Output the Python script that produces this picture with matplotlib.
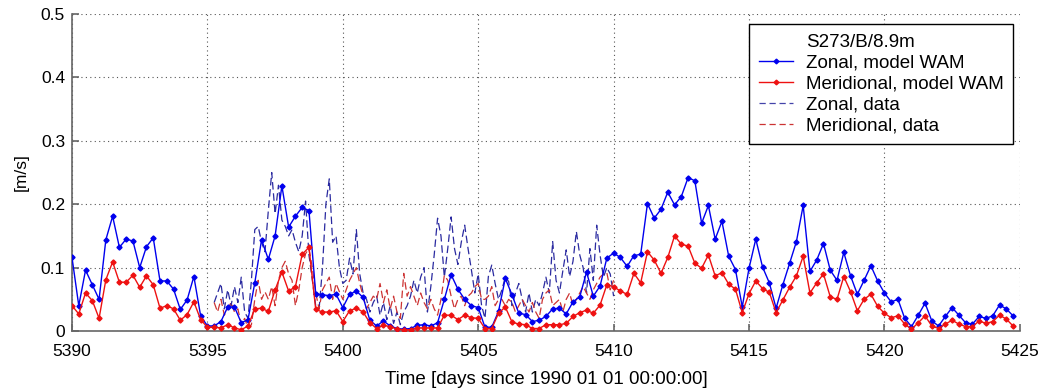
import numpy as np
import matplotlib
matplotlib.use("Agg")
import matplotlib.pyplot as plt
from matplotlib.lines import Line2D

plt.rcParams['font.family'] = ['Liberation Sans', 'DejaVu Sans']

# ---------------- data ----------------
model_start = 5390.0
model_step = 0.25  # 6-hourly model output

zonal_model = [
    0.116, 0.040, 0.096, 0.073,
    0.050, 0.144, 0.181, 0.132,
    0.145, 0.142, 0.100, 0.133,
    0.147, 0.079, 0.079, 0.066,
    0.034, 0.049, 0.086, 0.024,
    0.008, 0.008, 0.015, 0.038,
    0.038, 0.013, 0.018, 0.076,
    0.144, 0.113, 0.150, 0.229,
    0.164, 0.181, 0.195, 0.190,
    0.059, 0.057, 0.056, 0.058,
    0.037, 0.058, 0.063, 0.053,
    0.017, 0.008, 0.016, 0.008,
    0.004, 0.003, 0.004, 0.009,
    0.010, 0.008, 0.013, 0.050,
    0.089, 0.066, 0.050, 0.040,
    0.037, 0.006, 0.006, 0.031,
    0.083, 0.057, 0.028, 0.026,
    0.015, 0.017, 0.023, 0.035,
    0.036, 0.027, 0.046, 0.054,
    0.093, 0.055, 0.071, 0.115,
    0.123, 0.116, 0.102, 0.119,
    0.121, 0.201, 0.178, 0.192,
    0.219, 0.199, 0.212, 0.242,
    0.237, 0.170, 0.198, 0.145,
    0.173, 0.118, 0.097, 0.038,
    0.099, 0.145, 0.101, 0.076,
    0.036, 0.073, 0.107, 0.141,
    0.198, 0.094, 0.112, 0.138,
    0.096, 0.080, 0.124, 0.087,
    0.058, 0.080, 0.103, 0.079,
    0.060, 0.046, 0.050, 0.020,
    0.007, 0.025, 0.044, 0.016,
    0.008, 0.023, 0.037, 0.025,
    0.013, 0.011, 0.023, 0.020,
    0.024, 0.041, 0.035, 0.024,
]

meridional_model = [
    0.040, 0.027, 0.060, 0.048,
    0.020, 0.081, 0.109, 0.077,
    0.077, 0.088, 0.069, 0.087,
    0.073, 0.036, 0.040, 0.035,
    0.017, 0.026, 0.046, 0.018,
    0.006, 0.006, 0.005, 0.010,
    0.005, 0.002, 0.008, 0.035,
    0.036, 0.031, 0.065, 0.093,
    0.063, 0.070, 0.121, 0.132,
    0.034, 0.030, 0.030, 0.032,
    0.015, 0.032, 0.036, 0.030,
    0.013, 0.004, 0.009, 0.007,
    0.003, 0.002, 0.002, 0.005,
    0.005, 0.005, 0.005, 0.025,
    0.025, 0.018, 0.025, 0.021,
    0.020, 0.004, 0.004, 0.028,
    0.038, 0.014, 0.011, 0.010,
    0.004, 0.004, 0.010, 0.010,
    0.010, 0.012, 0.023, 0.029,
    0.033, 0.028, 0.041, 0.073,
    0.070, 0.063, 0.058, 0.091,
    0.076, 0.125, 0.112, 0.091,
    0.116, 0.150, 0.137, 0.134,
    0.107, 0.099, 0.120, 0.087,
    0.092, 0.074, 0.066, 0.029,
    0.059, 0.079, 0.067, 0.061,
    0.029, 0.049, 0.069, 0.087,
    0.118, 0.060, 0.076, 0.090,
    0.054, 0.050, 0.086, 0.062,
    0.032, 0.050, 0.058, 0.039,
    0.028, 0.021, 0.024, 0.011,
    0.003, 0.013, 0.024, 0.008,
    0.004, 0.011, 0.017, 0.011,
    0.007, 0.007, 0.016, 0.012,
    0.015, 0.025, 0.019, 0.008,
]

data_start = 5395.25
data_step = 0.125  # 3-hourly observations

zonal_data = [
    0.045, 0.060, 0.075, 0.035, 0.065, 0.040, 0.070, 0.045,
    0.085, 0.030, 0.020, 0.080, 0.160, 0.165, 0.140, 0.125,
    0.190, 0.250, 0.185, 0.230, 0.175, 0.165, 0.150, 0.160,
    0.140, 0.125, 0.150, 0.205, 0.120, 0.080, 0.040, 0.035,
    0.100, 0.200, 0.240, 0.140, 0.150, 0.100, 0.075, 0.080,
    0.115, 0.090, 0.160, 0.090, 0.060, 0.050, 0.030, 0.045,
    0.055, 0.025, 0.045, 0.018, 0.040, 0.012, 0.030, 0.010,
    0.030, 0.040, 0.055, 0.080, 0.060, 0.085, 0.100, 0.030,
    0.070, 0.120, 0.178, 0.150, 0.085, 0.130, 0.180, 0.130,
    0.105, 0.140, 0.167, 0.130, 0.096, 0.060, 0.090, 0.040,
    0.020, 0.086, 0.104, 0.075, 0.050, 0.065, 0.085, 0.078,
    0.040, 0.060, 0.075, 0.050, 0.030, 0.060, 0.030, 0.050,
    0.040, 0.060, 0.085, 0.060, 0.141, 0.080, 0.060, 0.095,
    0.128, 0.086, 0.110, 0.157, 0.120, 0.100, 0.060, 0.130,
    0.080, 0.167, 0.120, 0.085, 0.100, 0.090, 0.055,
]

meridional_data = [
    0.045, 0.030, 0.050, 0.025, 0.035, 0.045, 0.030, 0.035,
    0.010, 0.020, 0.005, 0.010, 0.050, 0.080, 0.050, 0.062,
    0.050, 0.070, 0.040, 0.080, 0.100, 0.110, 0.090, 0.080,
    0.040, 0.065, 0.100, 0.122, 0.130, 0.100, 0.060, 0.035,
    0.065, 0.075, 0.085, 0.050, 0.075, 0.062, 0.050, 0.065,
    0.080, 0.090, 0.100, 0.075, 0.055, 0.035, 0.045, 0.055,
    0.050, 0.075, 0.045, 0.065, 0.035, 0.055, 0.030, 0.020,
    0.091, 0.055, 0.070, 0.055, 0.040, 0.060, 0.045, 0.035,
    0.050, 0.035, 0.025, 0.050, 0.088, 0.080, 0.055, 0.035,
    0.050, 0.055, 0.040, 0.055, 0.060, 0.070, 0.075, 0.050,
    0.050, 0.055, 0.070, 0.040, 0.050, 0.050, 0.040, 0.050,
    0.045, 0.030, 0.040, 0.050, 0.040, 0.030, 0.045, 0.030,
    0.020, 0.050, 0.060, 0.065, 0.040, 0.045, 0.050, 0.030,
    0.050, 0.060, 0.040, 0.050, 0.060, 0.070, 0.060, 0.050,
    0.065, 0.075, 0.085, 0.090, 0.092, 0.065, 0.080,
]

x_ticks = [5390, 5395, 5400, 5405, 5410, 5415, 5420, 5425]
y_ticks = [0, 0.1, 0.2, 0.3, 0.4, 0.5]
y_ticklabels = ['0', '0.1', '0.2', '0.3', '0.4', '0.5']

legend_title = 'S273/B/8.9m'
labels = ['Zonal, model WAM', 'Meridional, model WAM', 'Zonal, data', 'Meridional, data']

# ---------------- plot ----------------
t_model = model_start + model_step * np.arange(len(zonal_model))
t_data = data_start + data_step * np.arange(len(zonal_data))

fig = plt.figure(figsize=(10.45, 3.89), dpi=100)
ax = fig.add_axes([0.0689, 0.149, 0.907, 0.815])

blue = '#0000ee'
red = '#ee1111'

ax.plot(t_data, zonal_data, color='#2a2aa0', lw=0.9, ls=(0, (6, 3)), zorder=2)
ax.plot(t_data, meridional_data, color='#cc3333', lw=0.9, ls=(0, (6, 3)), zorder=2)
ax.plot(t_model, zonal_model, color=blue, lw=1.0, marker='D', ms=2.6, zorder=3)
ax.plot(t_model, meridional_model, color=red, lw=1.0, marker='D', ms=2.6, zorder=3)

ax.set_xlim(5390, 5425)
ax.set_ylim(0, 0.5)
ax.set_xticks(x_ticks)
ax.set_xticklabels([str(v) for v in x_ticks])
ax.set_yticks(y_ticks)
ax.set_yticklabels(y_ticklabels)
ax.grid(True, ls=(0, (1, 3)), color='#555555', lw=0.8)
ax.set_axisbelow(True)
for s in ['top', 'right']:
    ax.spines[s].set_visible(False)
for s in ['left', 'bottom']:
    ax.spines[s].set_color('#666666')
    ax.spines[s].set_linewidth(1.2)
ax.tick_params(direction='in', length=5, width=1.2, color='#666666', labelsize=12.5)
ax.tick_params(axis='x', pad=9)
ax.tick_params(axis='y', pad=5)
ax.set_xlabel('Time [days since 1990 01 01 00:00:00]', fontsize=13.5, labelpad=9)
ax.set_ylabel('[m/s]', fontsize=12.5, labelpad=9)

h0 = Line2D([], [], color='none')
h1 = Line2D([], [], color=blue, lw=1.0, marker='D', ms=2.4, markevery=[1])
h2 = Line2D([], [], color=red, lw=1.0, marker='D', ms=2.4, markevery=[1])
h3 = Line2D([], [], color='#4444aa', lw=0.9, ls=(0, (5, 3)))
h4 = Line2D([], [], color='#cc3333', lw=0.9, ls=(0, (5, 3)))
leg = ax.legend([h0, h1, h2, h3, h4], [legend_title] + labels,
                loc='upper right', bbox_to_anchor=(0.9926, 0.968),
                fontsize=13.5, frameon=True, fancybox=False, framealpha=1,
                edgecolor='black', handlelength=1.8, labelspacing=0.2,
                borderpad=0.5, handletextpad=0.7, borderaxespad=0)
leg.get_frame().set_linewidth(1.0)

fig.savefig('out.png', dpi=100)
